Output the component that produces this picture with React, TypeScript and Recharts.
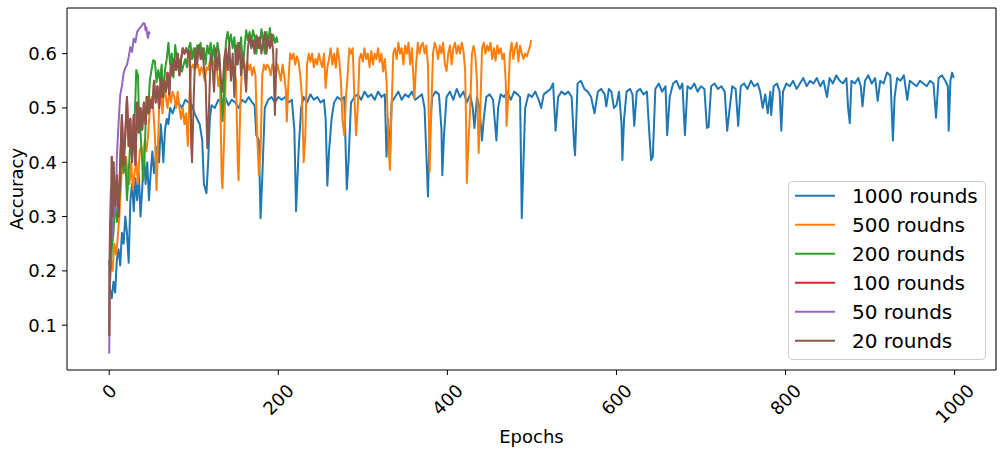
import React from 'react';
import { LineChart, Line, XAxis, YAxis, Legend, ReferenceLine } from 'recharts';

const FONT = '"DejaVu Sans", "Liberation Sans", sans-serif';
const TICK_FS = 18;
const LABEL_FS = 18;

const xTicks = [0, 200, 400, 600, 800, 1000];
const yTicks = [0.1, 0.2, 0.3, 0.4, 0.5, 0.6];
const seriesLabels = ['1000 rounds', '500 roudns', '200 rounds', '100 rounds', '50 rounds', '20 rounds'];
const seriesColors = ['#1f77b4', '#ff7f0e', '#2ca02c', '#d62728', '#9467bd', '#8c564b'];

// [epoch, accuracy]
const rounds1000: [number, number][] = [
  [0, 0.17], [2, 0.16], [3, 0.15], [5, 0.18], [7, 0.16], [9, 0.22], [11, 0.24], [13, 0.21], [15, 0.27], [17, 0.25],
  [19, 0.3], [21, 0.27], [23, 0.215], [25, 0.33], [27, 0.36], [29, 0.31], [31, 0.37], [33, 0.33], [35, 0.38], [37, 0.3],
  [39, 0.35], [41, 0.42], [43, 0.36], [45, 0.4], [47, 0.33], [49, 0.38], [51, 0.42], [53, 0.38], [55, 0.41], [57, 0.43],
  [59, 0.4], [61, 0.47], [63, 0.43], [64, 0.4], [66, 0.46], [68, 0.48], [70, 0.47], [72, 0.5], [75, 0.49], [78, 0.505],
  [82, 0.51], [86, 0.5], [90, 0.515], [94, 0.51], [98, 0.505], [101, 0.49], [104, 0.48], [107, 0.47], [110, 0.44], [112, 0.36],
  [115, 0.343], [117, 0.4], [119, 0.48], [121, 0.505], [125, 0.5], [129, 0.515], [133, 0.51], [137, 0.52], [141, 0.505], [145, 0.515],
  [149, 0.51], [153, 0.5], [157, 0.515], [161, 0.51], [165, 0.52], [169, 0.51], [172, 0.505], [174, 0.45], [177, 0.44], [179, 0.297],
  [181, 0.37], [184, 0.5], [188, 0.515], [192, 0.52], [196, 0.51], [200, 0.52], [204, 0.515], [208, 0.52], [212, 0.51], [216, 0.515],
  [219, 0.46], [221, 0.31], [224, 0.42], [227, 0.5], [230, 0.52], [234, 0.51], [238, 0.525], [242, 0.515], [246, 0.52], [250, 0.51],
  [254, 0.515], [256, 0.48], [258, 0.357], [260, 0.42], [263, 0.48], [266, 0.51], [270, 0.52], [274, 0.515], [278, 0.52], [281, 0.35],
  [283, 0.4], [286, 0.51], [290, 0.52], [294, 0.525], [298, 0.515], [302, 0.53], [306, 0.52], [310, 0.525], [314, 0.515], [318, 0.53],
  [322, 0.52], [326, 0.525], [328, 0.41], [330, 0.48], [332, 0.4], [334, 0.51], [338, 0.52], [342, 0.53], [346, 0.515], [350, 0.525],
  [354, 0.52], [358, 0.53], [362, 0.515], [366, 0.52], [370, 0.525], [373, 0.5], [375, 0.42], [377, 0.337], [379, 0.45], [382, 0.52],
  [386, 0.53], [390, 0.525], [393, 0.46], [394, 0.376], [396, 0.45], [399, 0.52], [403, 0.53], [407, 0.515], [411, 0.535], [415, 0.52],
  [419, 0.53], [423, 0.51], [427, 0.525], [430, 0.5], [432, 0.463], [435, 0.52], [438, 0.5], [441, 0.44], [443, 0.48], [446, 0.52],
  [450, 0.525], [454, 0.515], [458, 0.44], [460, 0.5], [463, 0.525], [467, 0.52], [471, 0.53], [475, 0.515], [479, 0.53], [483, 0.525],
  [486, 0.52], [488, 0.297], [490, 0.4], [492, 0.5], [496, 0.525], [500, 0.52], [504, 0.53], [508, 0.515], [511, 0.5], [514, 0.525],
  [518, 0.53], [522, 0.535], [525, 0.545], [528, 0.458], [531, 0.52], [535, 0.53], [539, 0.525], [543, 0.53], [547, 0.52], [550, 0.43],
  [551, 0.413], [554, 0.545], [558, 0.55], [562, 0.535], [566, 0.53], [570, 0.52], [574, 0.49], [578, 0.53], [582, 0.535], [586, 0.525],
  [588, 0.503], [591, 0.535], [594, 0.53], [597, 0.5], [600, 0.505], [603, 0.53], [606, 0.47], [607, 0.404], [609, 0.48], [612, 0.53],
  [616, 0.535], [619, 0.525], [621, 0.467], [624, 0.53], [628, 0.535], [632, 0.525], [636, 0.53], [639, 0.45], [641, 0.404], [643, 0.41],
  [646, 0.535], [650, 0.545], [654, 0.53], [658, 0.54], [660, 0.45], [663, 0.52], [667, 0.545], [671, 0.55], [675, 0.535], [678, 0.545],
  [681, 0.45], [684, 0.54], [688, 0.535], [692, 0.545], [696, 0.53], [700, 0.54], [704, 0.535], [707, 0.463], [709, 0.465], [712, 0.54],
  [716, 0.545], [720, 0.535], [724, 0.54], [728, 0.53], [731, 0.458], [734, 0.5], [737, 0.54], [741, 0.535], [744, 0.467], [747, 0.54],
  [751, 0.545], [755, 0.535], [759, 0.55], [763, 0.54], [767, 0.545], [770, 0.53], [773, 0.5], [776, 0.525], [779, 0.49], [782, 0.53],
  [783, 0.487], [786, 0.54], [790, 0.545], [793, 0.53], [795, 0.458], [797, 0.53], [801, 0.545], [805, 0.54], [809, 0.55], [813, 0.535],
  [817, 0.545], [821, 0.555], [825, 0.54], [829, 0.55], [833, 0.545], [837, 0.555], [841, 0.54], [845, 0.55], [849, 0.52], [852, 0.555],
  [856, 0.545], [860, 0.56], [864, 0.55], [868, 0.545], [872, 0.555], [874, 0.5], [876, 0.472], [878, 0.55], [882, 0.545], [886, 0.555],
  [889, 0.54], [891, 0.503], [894, 0.55], [898, 0.56], [902, 0.545], [906, 0.555], [909, 0.513], [912, 0.55], [916, 0.545], [920, 0.565],
  [924, 0.56], [927, 0.44], [929, 0.52], [932, 0.555], [936, 0.55], [940, 0.56], [944, 0.515], [947, 0.55], [951, 0.545], [955, 0.54],
  [959, 0.55], [963, 0.545], [967, 0.54], [971, 0.55], [975, 0.545], [978, 0.482], [981, 0.555], [985, 0.56], [989, 0.55], [992, 0.54],
  [993, 0.458], [995, 0.55], [997, 0.565], [999, 0.555],
];

const rounds500: [number, number][] = [
  [0, 0.19], [2, 0.22], [4, 0.2], [6, 0.25], [8, 0.23], [10, 0.26], [12, 0.3], [14, 0.36], [16, 0.42], [18, 0.39],
  [20, 0.41], [22, 0.37], [24, 0.36], [26, 0.4], [28, 0.35], [30, 0.38], [32, 0.4], [34, 0.36], [36, 0.42], [38, 0.43],
  [40, 0.4], [42, 0.44], [44, 0.42], [46, 0.45], [48, 0.5], [50, 0.52], [52, 0.5], [54, 0.45], [56, 0.349], [57, 0.4],
  [59, 0.5], [61, 0.53], [63, 0.49], [65, 0.54], [67, 0.52], [69, 0.5], [71, 0.53], [73, 0.51], [75, 0.53], [77, 0.52],
  [79, 0.5], [81, 0.53], [83, 0.5], [85, 0.48], [87, 0.5], [89, 0.47], [91, 0.49], [93, 0.43], [95, 0.525], [97, 0.573],
  [99, 0.58], [101, 0.57], [103, 0.575], [105, 0.58], [107, 0.56], [109, 0.575], [111, 0.568], [113, 0.55], [115, 0.575], [117, 0.57],
  [119, 0.585], [121, 0.59], [123, 0.586], [125, 0.575], [127, 0.58], [129, 0.54], [131, 0.56], [133, 0.371], [134, 0.352], [136, 0.45],
  [138, 0.57], [140, 0.585], [142, 0.57], [144, 0.588], [146, 0.56], [148, 0.575], [150, 0.55], [152, 0.4], [153, 0.367], [155, 0.5],
  [157, 0.58], [159, 0.59], [161, 0.565], [163, 0.585], [165, 0.57], [167, 0.58], [169, 0.56], [171, 0.575], [173, 0.56], [175, 0.45],
  [177, 0.376], [179, 0.42], [181, 0.56], [183, 0.58], [185, 0.57], [187, 0.58], [189, 0.575], [191, 0.56], [193, 0.58], [195, 0.575],
  [197, 0.56], [199, 0.58], [201, 0.565], [203, 0.55], [205, 0.58], [207, 0.56], [209, 0.53], [210, 0.475], [212, 0.55], [214, 0.6],
  [216, 0.59], [218, 0.6], [220, 0.58], [222, 0.595], [224, 0.585], [226, 0.56], [228, 0.52], [230, 0.4], [232, 0.45], [234, 0.58],
  [236, 0.6], [238, 0.585], [240, 0.6], [242, 0.575], [244, 0.59], [246, 0.58], [248, 0.6], [250, 0.585], [252, 0.575], [254, 0.6],
  [256, 0.537], [258, 0.575], [260, 0.59], [262, 0.61], [264, 0.58], [266, 0.6], [268, 0.574], [270, 0.61], [272, 0.59], [274, 0.55],
  [276, 0.476], [278, 0.45], [280, 0.52], [282, 0.56], [284, 0.61], [286, 0.6], [288, 0.61], [290, 0.52], [292, 0.45], [294, 0.5],
  [296, 0.59], [298, 0.6], [300, 0.585], [302, 0.61], [304, 0.59], [306, 0.6], [308, 0.575], [310, 0.605], [312, 0.58], [314, 0.6],
  [316, 0.59], [318, 0.61], [320, 0.585], [322, 0.6], [324, 0.567], [326, 0.59], [328, 0.55], [330, 0.45], [332, 0.386], [334, 0.5],
  [336, 0.6], [338, 0.61], [340, 0.59], [342, 0.62], [344, 0.6], [346, 0.61], [348, 0.58], [350, 0.615], [352, 0.6], [354, 0.62],
  [356, 0.58], [358, 0.61], [360, 0.55], [361, 0.518], [363, 0.58], [365, 0.62], [367, 0.6], [369, 0.615], [371, 0.62], [373, 0.6],
  [375, 0.615], [377, 0.58], [379, 0.383], [381, 0.5], [383, 0.6], [385, 0.62], [387, 0.61], [389, 0.59], [391, 0.615], [393, 0.6],
  [395, 0.62], [397, 0.58], [399, 0.568], [401, 0.6], [403, 0.615], [405, 0.58], [407, 0.61], [409, 0.62], [411, 0.6], [413, 0.615],
  [415, 0.6], [417, 0.62], [419, 0.605], [421, 0.57], [422, 0.48], [423, 0.362], [425, 0.44], [427, 0.5], [429, 0.6], [431, 0.614],
  [433, 0.597], [435, 0.55], [437, 0.417], [439, 0.5], [441, 0.61], [443, 0.62], [445, 0.6], [447, 0.615], [449, 0.605], [451, 0.62],
  [453, 0.59], [455, 0.61], [457, 0.587], [459, 0.615], [461, 0.6], [463, 0.61], [465, 0.59], [467, 0.6], [469, 0.55], [470, 0.467],
  [472, 0.52], [474, 0.6], [476, 0.62], [478, 0.59], [480, 0.61], [482, 0.62], [484, 0.585], [486, 0.615], [488, 0.6], [490, 0.59],
  [492, 0.6], [494, 0.595], [496, 0.605], [498, 0.615], [499, 0.625],
];

const rounds200: [number, number][] = [
  [0, 0.22], [1, 0.18], [3, 0.24], [5, 0.27], [7, 0.33], [9, 0.29], [11, 0.31], [13, 0.36], [15, 0.43], [17, 0.38],
  [19, 0.41], [21, 0.33], [23, 0.38], [25, 0.44], [27, 0.41], [29, 0.44], [31, 0.52], [32, 0.57], [34, 0.56], [35, 0.5],
  [37, 0.455], [39, 0.4], [40, 0.365], [42, 0.42], [44, 0.52], [46, 0.49], [48, 0.55], [50, 0.57], [52, 0.588], [54, 0.586],
  [56, 0.547], [58, 0.57], [60, 0.55], [62, 0.58], [64, 0.52], [66, 0.57], [68, 0.59], [70, 0.62], [72, 0.58], [74, 0.6],
  [76, 0.556], [78, 0.616], [80, 0.59], [82, 0.57], [84, 0.59], [86, 0.567], [88, 0.58], [90, 0.59], [92, 0.575], [94, 0.61],
  [96, 0.62], [98, 0.59], [100, 0.61], [102, 0.575], [104, 0.615], [106, 0.6], [108, 0.62], [110, 0.59], [112, 0.61], [114, 0.58],
  [116, 0.615], [118, 0.6], [120, 0.62], [122, 0.59], [124, 0.615], [126, 0.58], [128, 0.62], [130, 0.6], [132, 0.55], [134, 0.476],
  [136, 0.53], [138, 0.62], [140, 0.64], [142, 0.62], [144, 0.635], [146, 0.61], [148, 0.63], [150, 0.58], [152, 0.62], [154, 0.6],
  [156, 0.63], [158, 0.574], [160, 0.61], [162, 0.643], [164, 0.625], [166, 0.64], [168, 0.62], [170, 0.643], [172, 0.63], [174, 0.6],
  [176, 0.63], [178, 0.61], [180, 0.645], [182, 0.625], [184, 0.6], [186, 0.64], [188, 0.62], [190, 0.647], [192, 0.615], [194, 0.635],
  [196, 0.62], [198, 0.63], [199, 0.62],
];

const rounds50: [number, number][] = [
  [0, 0.048], [1, 0.3], [2, 0.352], [3, 0.26], [4, 0.29], [5, 0.33], [6, 0.3], [8, 0.327], [9, 0.41], [11, 0.47],
  [13, 0.524], [15, 0.54], [17, 0.564], [19, 0.574], [21, 0.579], [23, 0.594], [25, 0.612], [27, 0.603], [29, 0.628], [31, 0.621],
  [33, 0.64], [35, 0.645], [37, 0.649], [39, 0.652], [40, 0.656], [42, 0.655], [43, 0.643], [44, 0.648], [45, 0.634], [46, 0.629],
  [47, 0.64], [48, 0.636],
];

const rounds20: [number, number][] = [
  [0, 0.08], [1, 0.29], [2, 0.24], [3, 0.41], [4, 0.3], [5, 0.4], [7, 0.32], [9, 0.376], [11, 0.3], [13, 0.4],
  [15, 0.487], [17, 0.395], [19, 0.45], [21, 0.52], [23, 0.43], [25, 0.48], [27, 0.4], [29, 0.487], [31, 0.395], [33, 0.51],
  [35, 0.455], [37, 0.5], [39, 0.46], [41, 0.51], [43, 0.47], [45, 0.52], [47, 0.49], [49, 0.515], [51, 0.5], [53, 0.55],
  [55, 0.51], [57, 0.54], [59, 0.5], [61, 0.555], [63, 0.52], [65, 0.55], [67, 0.53], [69, 0.565], [71, 0.525], [73, 0.58],
  [75, 0.56], [77, 0.59], [79, 0.57], [81, 0.6], [83, 0.56], [85, 0.59], [87, 0.61], [89, 0.6], [91, 0.61], [93, 0.6],
  [95, 0.605], [97, 0.45], [98, 0.4], [100, 0.52], [102, 0.61], [104, 0.58], [106, 0.616], [108, 0.59], [110, 0.61], [112, 0.575],
  [114, 0.55], [116, 0.426], [118, 0.5], [120, 0.6], [122, 0.58], [124, 0.53], [126, 0.61], [128, 0.57], [130, 0.6], [132, 0.55],
  [134, 0.53], [136, 0.59], [138, 0.61], [140, 0.57], [142, 0.62], [144, 0.55], [146, 0.6], [148, 0.52], [150, 0.615], [152, 0.58],
  [154, 0.62], [156, 0.56], [158, 0.6], [160, 0.57], [162, 0.53], [164, 0.61], [166, 0.634], [168, 0.61], [170, 0.625], [172, 0.6],
  [174, 0.634], [176, 0.61], [178, 0.63], [180, 0.6], [182, 0.62], [184, 0.64], [186, 0.6], [188, 0.63], [190, 0.61], [192, 0.635],
  [194, 0.6], [196, 0.487], [198, 0.61],
];

// the 100-round run lies entirely underneath the 20-round curve in the reference
const rounds100: [number, number][] = rounds20.filter(([e]) => e <= 99);

const allSeries = [rounds1000, rounds500, rounds200, rounds100, rounds50, rounds20];

const toRows = (s: [number, number][]) => s.map(([e, a]) => ({ e, a }));

const XTick = (props: any) => {
  const { x, y, payload } = props;
  const label = String(payload.value);
  const fs = TICK_FS;
  const w = label.length * 0.636 * fs;
  const h = 1.164 * fs;
  const half = ((w + h) * 0.7071) / 2;
  const cy = y + half;
  return (
    <text
      x={x}
      y={cy}
      textAnchor="middle"
      dominantBaseline="central"
      fontFamily={FONT}
      fontSize={fs}
      fill="#000"
      transform={`rotate(-45, ${x}, ${cy})`}
    >
      {label}
    </text>
  );
};

const LegendBox = () => (
  <svg width={198} height={179} style={{ display: 'block' }}>
    <rect x={0.5} y={0.5} width={197} height={178} rx={4} ry={4} fill="#ffffff" fillOpacity={0.8} stroke="#cccccc" strokeWidth={1} />
    {seriesLabels.map((lab, i) => {
      const cy = 14.7 + 29 * i;
      return (
        <g key={lab}>
          <line x1={7} x2={47} y1={cy} y2={cy} stroke={seriesColors[i]} strokeWidth={2.1} />
          <text x={64} y={cy} dominantBaseline="central" fontFamily={FONT} fontSize={20} fill="#000">
            {lab}
          </text>
        </g>
      );
    })}
  </svg>
);

export default function App() {
  return (
    <div style={{ position: 'absolute', left: 0, top: 0, width: 1004, height: 453, background: '#fff' }}>
      <LineChart width={1004} height={453} margin={{ top: 8, right: 8, bottom: 0, left: 0 }}>
        <XAxis
          type="number"
          dataKey="e"
          domain={[-49.95, 1048.95]}
          ticks={xTicks}
          allowDataOverflow
          height={83}
          tickSize={5}
          tickMargin={5}
          stroke="#000"
          tick={<XTick />}
          label={{
            content: (p: any) => {
              const vb = p.viewBox;
              return (
                <text x={vb.x + vb.width / 2} y={436} textAnchor="middle" dominantBaseline="central" fontFamily={FONT} fontSize={LABEL_FS} fill="#000">
                  Epochs
                </text>
              );
            },
          }}
        />
        <YAxis
          type="number"
          domain={[0.0175, 0.684]}
          ticks={yTicks}
          allowDataOverflow
          width={67}
          tickSize={5}
          tickMargin={5}
          stroke="#000"
          tickFormatter={(v: number) => v.toFixed(1)}
          tick={{ fontFamily: FONT, fontSize: TICK_FS, fill: '#000' }}
          label={{
            content: (p: any) => {
              const vb = p.viewBox;
              const cy = vb.y + vb.height / 2;
              return (
                <text x={16} y={cy} textAnchor="middle" dominantBaseline="central" fontFamily={FONT} fontSize={LABEL_FS} fill="#000" transform={`rotate(-90, 16, ${cy})`}>
                  Accuracy
                </text>
              );
            },
          }}
        />
        <ReferenceLine y={0.684} stroke="#000" strokeWidth={1.1} ifOverflow="extendDomain" />
        <ReferenceLine x={1048.95} stroke="#000" strokeWidth={1.1} ifOverflow="extendDomain" />
        {allSeries.map((s, i) => (
          <Line
            key={seriesLabels[i]}
            data={toRows(s)}
            dataKey="a"
            name={seriesLabels[i]}
            type="linear"
            stroke={seriesColors[i]}
            strokeWidth={2}
            strokeLinejoin="round"
            dot={false}
            activeDot={false}
            isAnimationActive={false}
          />
        ))}
        <Legend
          layout="vertical"
          align="center"
          verticalAlign="middle"
          wrapperStyle={{ position: 'absolute', left: 788, top: 181, width: 198, height: 179, margin: 0, padding: 0 }}
          content={() => <LegendBox />}
        />
      </LineChart>
    </div>
  );
}
